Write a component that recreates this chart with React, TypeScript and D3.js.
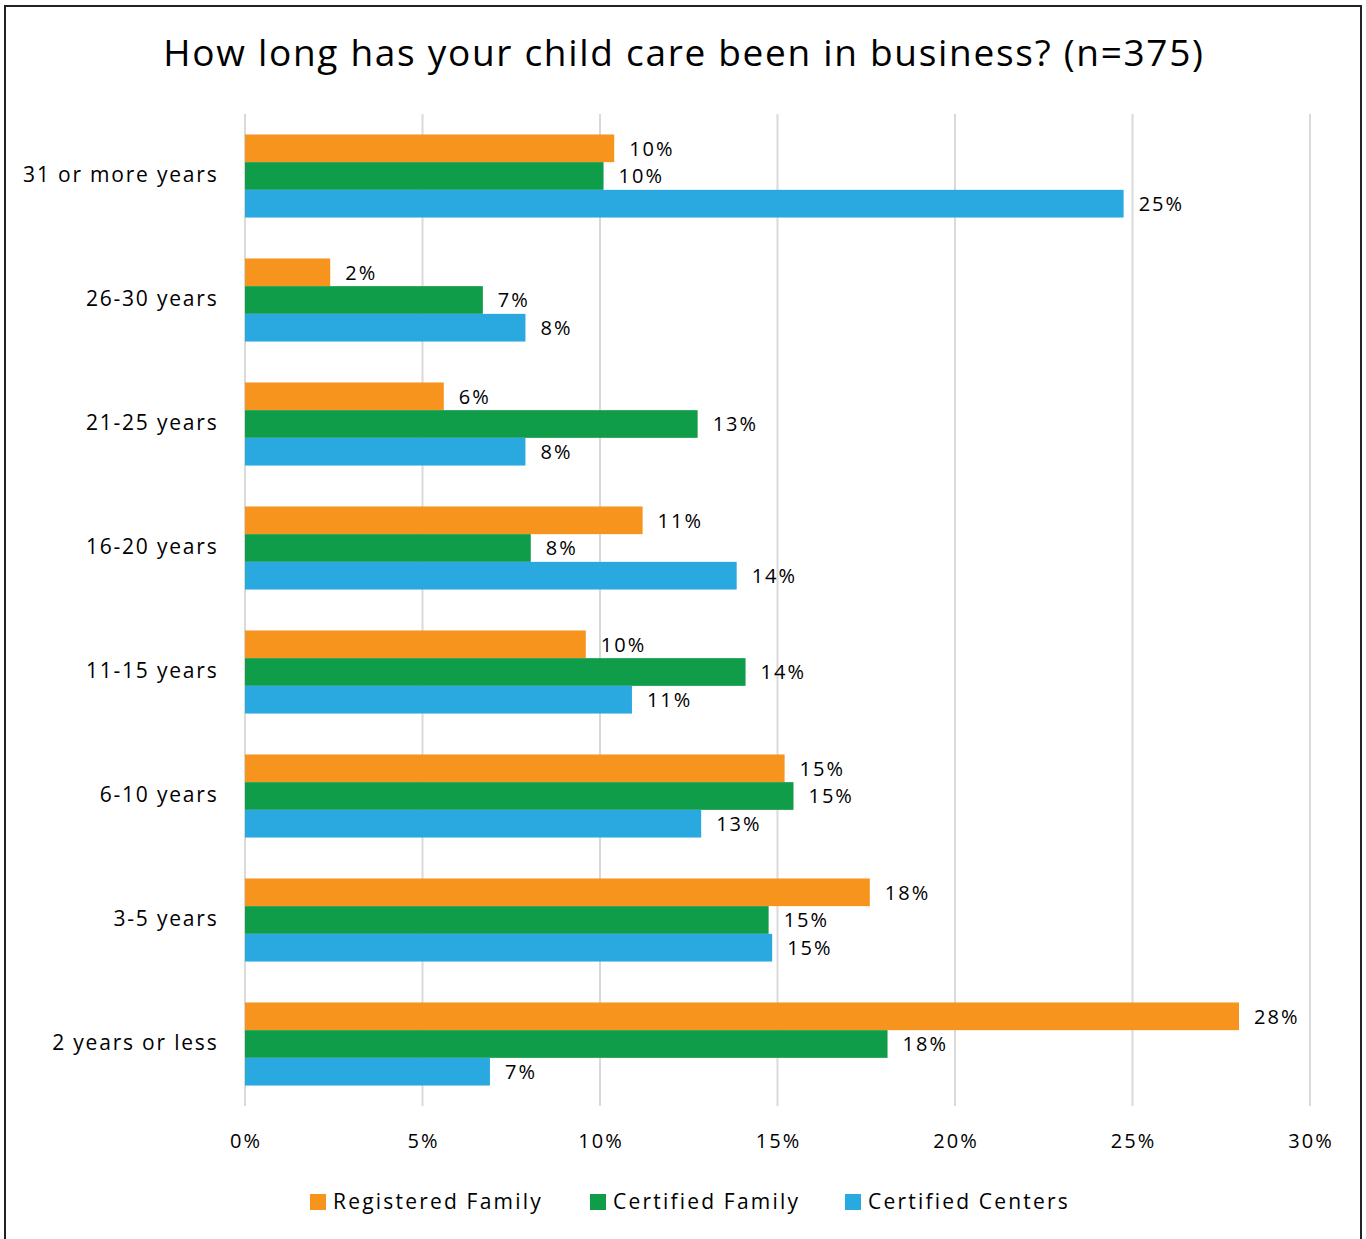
import React, { useEffect } from "react";
import * as d3 from "d3";

const categories = [
  "31 or more years",
  "26-30 years",
  "21-25 years",
  "16-20 years",
  "11-15 years",
  "6-10 years",
  "3-5 years",
  "2 years or less",
];
const seriesNames = ["Registered Family", "Certified Family", "Certified Centers"];
const registeredFamily = [10.4, 2.4, 5.6, 11.2, 9.6, 15.2, 17.6, 28.0];
const certifiedFamily = [10.1, 6.7, 12.75, 8.05, 14.1, 15.45, 14.75, 18.1];
const certifiedCenters = [24.75, 7.9, 7.9, 13.85, 10.9, 12.85, 14.85, 6.9];
const xTicks = [0, 5, 10, 15, 20, 25, 30];
const colors = ["#F7941D", "#0F9D4A", "#29A9E0"];

const W = 1366;
const H = 1239;
const FONT = "'Open Sans', sans-serif";

export default function App() {
  useEffect(() => {
    document.body.style.margin = "0";
  }, []);

  const series = [registeredFamily, certifiedFamily, certifiedCenters];
  const x = d3.scaleLinear().domain([0, 30]).range([245, 1310]);
  const y = d3.scaleBand<string>().domain(categories).range([114, 1106]).paddingInner(0.33).paddingOuter(0.165);
  const sub = d3.scaleBand<number>().domain([0, 1, 2]).range([0, y.bandwidth()]);

  const legendX = [310, 590, 845];

  return (
    <svg width={W} height={H} style={{ display: "block", background: "#fff" }} fontFamily={FONT}>
      <rect x={5} y={6} width={1356} height={1240} fill="#fff" stroke="#222" strokeWidth={2} />
      <text x={684} y={56} textAnchor="middle" dominantBaseline="middle" fontSize={37} letterSpacing={1.7} fill="#000">
        How long has your child care been in business? (n=375)
      </text>
      {xTicks.map((t) => (
        <line key={t} x1={x(t)} x2={x(t)} y1={114} y2={1106} stroke="#d9d9d9" strokeWidth={2} />
      ))}
      {categories.map((c, i) => (
        <g key={c}>
          <text x={218.5} y={(y(c) as number) + y.bandwidth() / 2} textAnchor="end" dominantBaseline="middle" fontSize={21} letterSpacing={1.8} fill="#000">
            {c}
          </text>
          {series.map((s, j) => {
            const by = (y(c) as number) + (sub(j) as number);
            return (
              <g key={j}>
                <rect x={x(0)} y={by} width={x(s[i]) - x(0)} height={sub.bandwidth()} fill={colors[j]} />
                <text x={x(s[i]) + 15} y={by + sub.bandwidth() / 2 + 2} dominantBaseline="middle" fontSize={20} letterSpacing={2} fill="#000">
                  {Math.round(s[i])}%
                </text>
              </g>
            );
          })}
        </g>
      ))}
      {xTicks.map((t) => (
        <text key={t} x={x(t) + 1} y={1143} textAnchor="middle" dominantBaseline="middle" fontSize={20} letterSpacing={2} fill="#000">
          {t}%
        </text>
      ))}
      {seriesNames.map((n, j) => (
        <g key={n}>
          <rect x={legendX[j]} y={1194} width={16} height={16} fill={colors[j]} />
          <text x={legendX[j] + 23} y={1203} dominantBaseline="middle" fontSize={21} letterSpacing={2.2} fill="#000">
            {n}
          </text>
        </g>
      ))}
    </svg>
  );
}
